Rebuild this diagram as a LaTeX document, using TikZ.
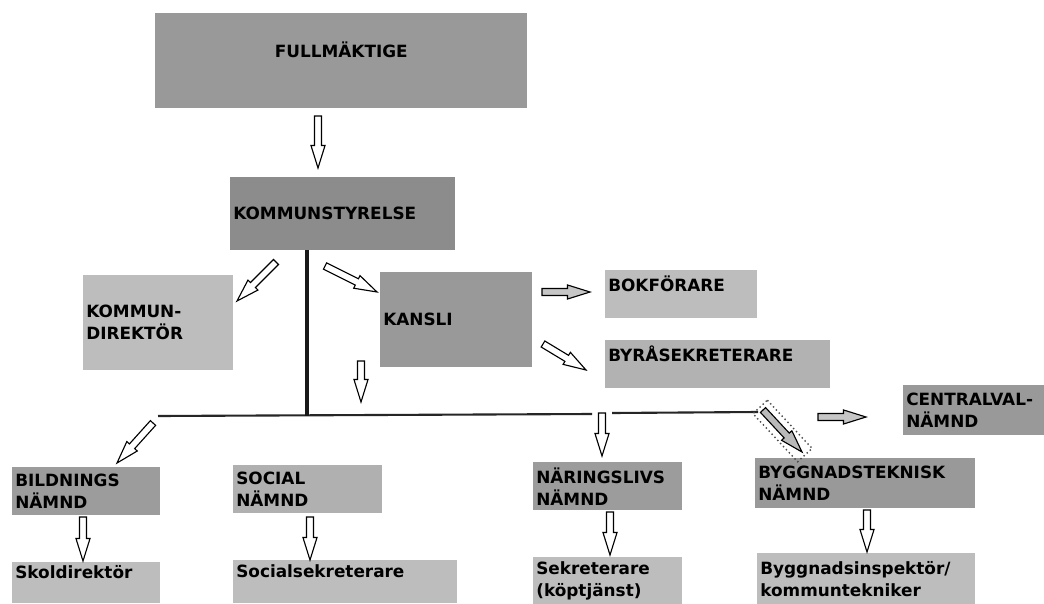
\documentclass[tikz,border=0pt]{standalone}
\usepackage{fontspec}
\setmainfont{DejaVu Sans}
\usetikzlibrary{calc}
\newcommand\pu{0.025cm}
\definecolor{gfull}{gray}{0.60}
\definecolor{gks}{gray}{0.55}
\definecolor{glight}{gray}{0.74}
\definecolor{gmid}{gray}{0.70}
\definecolor{gdark}{gray}{0.61}
\tikzset{
  twd/.code={\pgfmathsetlengthmacro\mytw{(#1-6)*0.025cm}\pgfkeysalso{text width=\mytw}},
  bx/.style 2 args={minimum width=#1*\pu, minimum height=#2*\pu, inner xsep=3*\pu,
    inner ysep=0pt, anchor=north west, align=left, twd=#1,
    font=\fontsize{12}{15.6}\selectfont\bfseries},
  arr/.style={draw=black, line width=0.8pt, fill=white, line join=miter},
  bus/.style={line width=1.5pt, black!85},
  stem/.style={line width=2.4pt, black!90},
}
\newcommand\barrow[3][]{%
  \filldraw[arr,#1] ($(#2)!2.5pt!90:(#3)$)
    -- ($(#3)!16pt!(#2)!2.5pt!-90:(#2)$)
    -- ($(#3)!16pt!(#2)!5pt!-90:(#2)$)
    -- (#3)
    -- ($(#3)!16pt!(#2)!5pt!90:(#2)$)
    -- ($(#3)!16pt!(#2)!2.5pt!90:(#2)$)
    -- ($(#2)!2.5pt!-90:(#3)$) -- cycle;}
\begin{document}
\begin{tikzpicture}[x=0.025cm, y=-0.025cm]
\fill[white] (0,0) rectangle (1044,604);
\useasboundingbox (0,0) rectangle (1044,604);

% boxes
\node[bx={372}{95}, fill=gfull, align=center] (full) at (155,13) {FULLMÄKTIGE\\\phantom{X}};
\node[bx={225}{73}, fill=gks] (ks) at (230,177) {KOMMUNSTYRELSE};
\node[bx={150}{95}, fill=glight] (kd) at (83,275) {KOMMUN-\\DIREKTÖR};
\node[bx={152}{95}, fill=gfull] (kansli) at (380,272) {KANSLI};
\node[bx={152}{48}, fill=glight] (bok) at (605,270) {BOKFÖRARE\\\phantom{X}};
\node[bx={225}{48}, fill=gmid] (byra) at (605,340) {BYRÅSEKRETERARE\\\phantom{X}};
\node[bx={141}{50}, fill=gfull] (central) at (903,385) {CENTRALVAL-\\NÄMND};
\node[bx={148}{48}, fill=gdark] (bild) at (12,467) {BILDNINGS\\NÄMND};
\node[bx={149}{48}, fill=gmid!90!gdark] (social) at (233,465) {SOCIAL\\NÄMND};
\node[bx={149}{48}, fill=gdark] (naring) at (533,462) {NÄRINGSLIVS\\NÄMND};
\node[bx={220}{50}, fill=gfull] (bygg) at (755,458) {BYGGNADSTEKNISK\\NÄMND};
\node[bx={148}{41}, fill=glight] (skol) at (12,562) {Skoldirektör\\\phantom{X}};
\node[bx={224}{43}, fill=glight] (socsek) at (233,560) {Socialsekreterare\\\phantom{X}};
\node[bx={149}{47}, fill=glight] (sek) at (533,557) {Sekreterare\\(köptjänst)};
\node[bx={218}{51}, fill=glight] (byggi) at (757,553) {Byggnadsinspektör/\\kommuntekniker};

% lines
\coordinate (v0) at (307,250);
\coordinate (vb) at (307,415.5);
\coordinate (b0) at (158,416);
\coordinate (b1) at (592,414);
\coordinate (b2) at (612,413);
\coordinate (b3) at (758,412);
\draw[bus] (b0) -- (b1);
\draw[bus] (b2) -- (b3);
\draw[stem] (v0) -- (vb);

% arrow end points
\coordinate (a1s) at (318,116);  \coordinate (a1e) at (318,168);
\coordinate (a2s) at (276,262);  \coordinate (a2e) at (237,301);
\coordinate (a3s) at (325,266);  \coordinate (a3e) at (377,292);
\coordinate (a4s) at (542,292);  \coordinate (a4e) at (590,292);
\coordinate (a5s) at (543,344);  \coordinate (a5e) at (586,370);
\coordinate (a6s) at (361,361);  \coordinate (a6e) at (361,402);
\coordinate (a7s) at (153,423);  \coordinate (a7e) at (117,463);
\coordinate (a8s) at (602,413);  \coordinate (a8e) at (602,456);
\coordinate (a9s) at (763,410);  \coordinate (a9e) at (802,452);
\coordinate (a10s) at (818,417); \coordinate (a10e) at (866,417);
\coordinate (a11s) at (83,517);  \coordinate (a11e) at (83,561);
\coordinate (a12s) at (310,517); \coordinate (a12e) at (310,560);
\coordinate (a13s) at (610,512); \coordinate (a13e) at (610,555);
\coordinate (a14s) at (867,510); \coordinate (a14e) at (867,552);

\barrow{a1s}{a1e}
\barrow{a2s}{a2e}
\barrow{a3s}{a3e}
\barrow[fill=gray!45]{a4s}{a4e}
\barrow{a5s}{a5e}
\barrow{a6s}{a6e}
\barrow{a7s}{a7e}
\barrow{a8s}{a8e}
\draw[dotted, line width=1pt, gray!60!black]
  ($(a9s)!-3pt!(a9e)!7pt!90:(a9e)$) -- ($(a9e)!-3pt!(a9s)!7pt!-90:(a9s)$)
  -- ($(a9e)!-3pt!(a9s)!7pt!90:(a9s)$) -- ($(a9s)!-3pt!(a9e)!7pt!-90:(a9e)$) -- cycle;
\barrow[fill=gray!55]{a9s}{a9e}
\barrow[fill=gray!45]{a10s}{a10e}
\barrow{a11s}{a11e}
\barrow{a12s}{a12e}
\barrow{a13s}{a13e}
\barrow{a14s}{a14e}
\end{tikzpicture}
\end{document}
